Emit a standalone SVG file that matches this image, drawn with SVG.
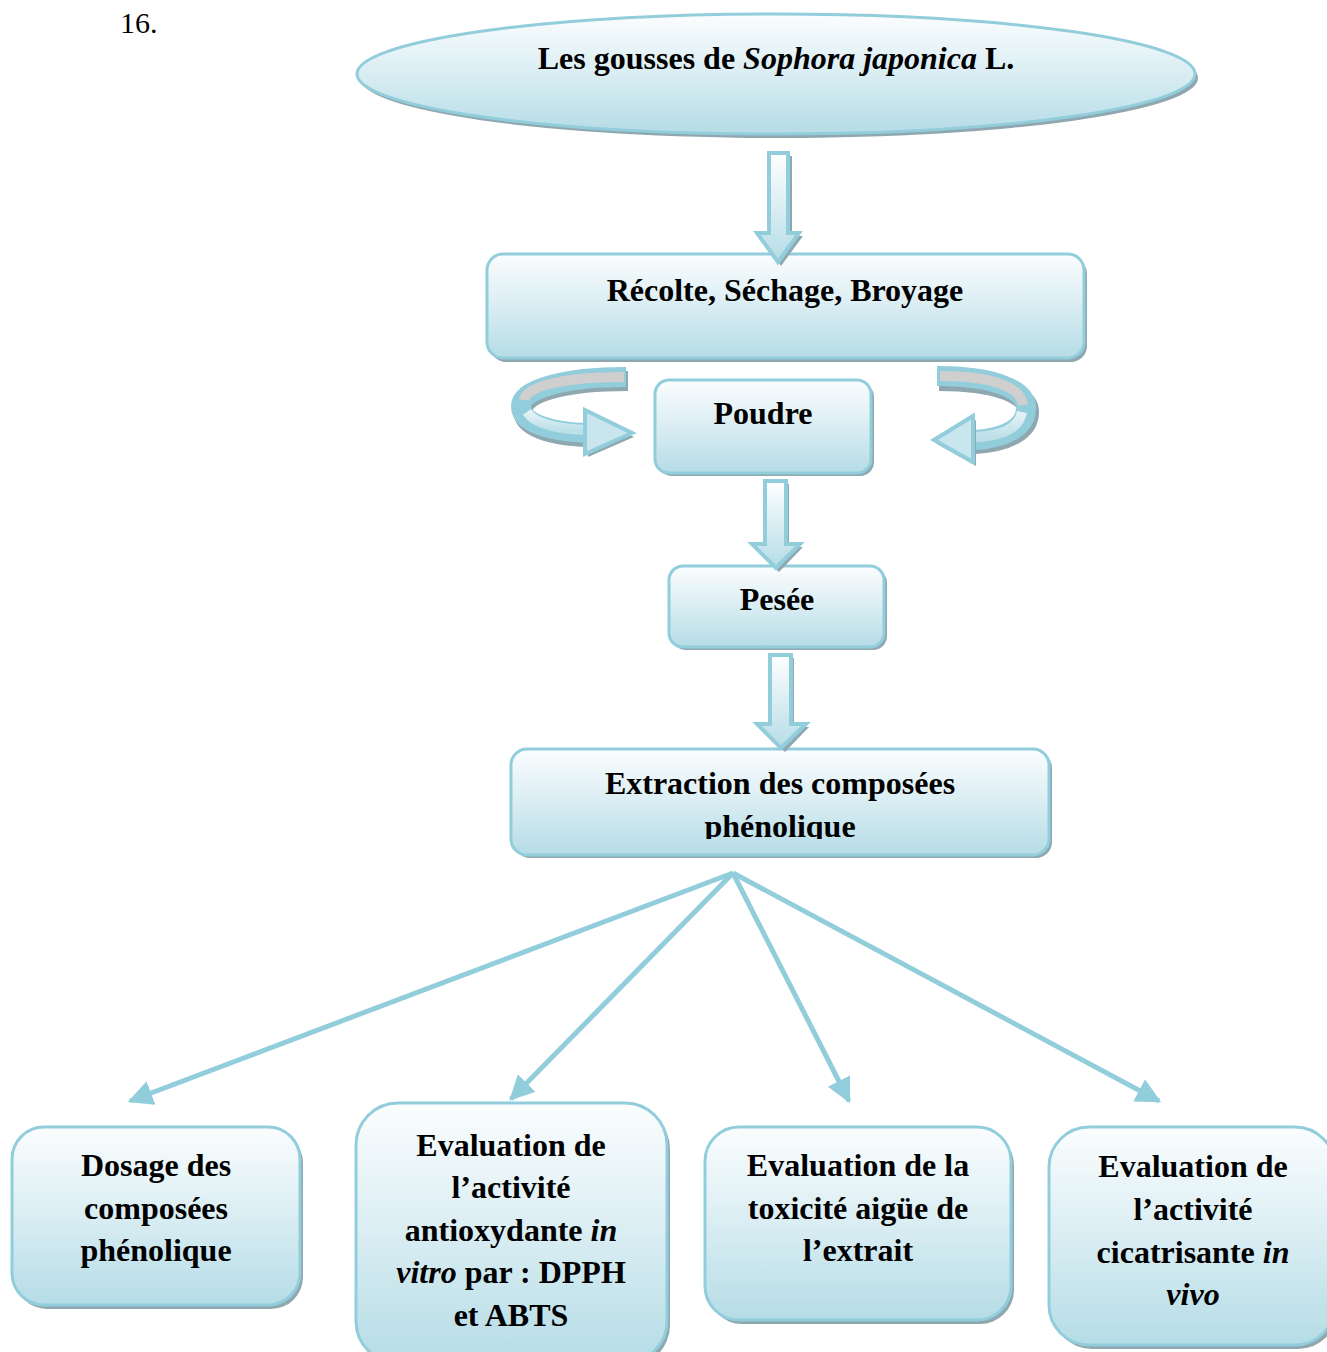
<svg xmlns="http://www.w3.org/2000/svg" width="1327" height="1352" viewBox="0 0 1327 1352">
  <defs>
    <linearGradient id="gFill" x1="0" y1="0" x2="0" y2="1">
      <stop offset="0" stop-color="#FBFDFE"/>
      <stop offset="0.45" stop-color="#DDEFF4"/>
      <stop offset="1" stop-color="#B5DCE6"/>
    </linearGradient>
    <linearGradient id="gArrow" x1="0" y1="0" x2="0" y2="1">
      <stop offset="0" stop-color="#FFFFFF"/>
      <stop offset="1" stop-color="#B5DCE6"/>
    </linearGradient>
    <linearGradient id="gRib" x1="0" y1="0" x2="0" y2="1">
      <stop offset="0" stop-color="#E4F2F6"/>
      <stop offset="1" stop-color="#BEE0E9"/>
    </linearGradient>
    <marker id="ah" viewBox="0 0 10 10" refX="9" refY="5" markerWidth="5" markerHeight="5" orient="auto" markerUnits="strokeWidth">
      <path d="M0,0 L10,5 L0,10 z" fill="#92CDDC"/>
    </marker>
    <clipPath id="clipExt">
      <rect x="500" y="740" width="560" height="99"/>
    </clipPath>
  </defs>
  <style>
    .node { fill: url(#gFill); stroke: #92CDDC; stroke-width: 3; }
    .shadow { fill: #8FA7AF; stroke: none; }
    .barrow { fill: url(#gArrow); stroke: #92CDDC; stroke-width: 4; stroke-linejoin: miter; }
    .bshadow { fill: #8FA7AF; stroke: none; }
    .t { font-family: "Liberation Serif", "Times New Roman", serif; font-weight: bold; font-size: 32px; fill: #000; text-anchor: middle; }
    .it { font-style: italic; }
    .conn { stroke: #92CDDC; stroke-width: 5; fill: none; }
  </style>

  <text x="120" y="33" font-family="Liberation Serif, Times New Roman, serif" font-size="30" fill="#000">16.</text>

  <!-- Node: ellipse -->
  <g id="n-gousses">
    <ellipse cx="779" cy="78" rx="419" ry="60" class="shadow"/>
    <ellipse cx="776" cy="74" rx="419" ry="60" class="node"/>
    <text x="776" y="69" class="t">Les gousses de <tspan class="it">Sophora japonica</tspan> L.</text>
  </g>

  <!-- Node: Récolte -->
  <g id="n-recolte">
    <rect x="490" y="258" width="597" height="104" rx="16" class="shadow"/>
    <rect x="487" y="254" width="597" height="104" rx="16" class="node"/>
    <text x="785" y="301" class="t">Récolte, Séchage, Broyage</text>
  </g>

  <!-- Node: Poudre -->
  <g id="n-poudre">
    <rect x="658" y="383" width="216" height="93" rx="14" class="shadow"/>
    <rect x="655" y="380" width="216" height="93" rx="14" class="node"/>
    <text x="763" y="424" class="t">Poudre</text>
  </g>

  <!-- Node: Pesée -->
  <g id="n-pesee">
    <rect x="672" y="569" width="215" height="81" rx="14" class="shadow"/>
    <rect x="669" y="566" width="215" height="81" rx="14" class="node"/>
    <text x="777" y="610" class="t">Pesée</text>
  </g>

  <!-- Node: Extraction -->
  <g id="n-extraction">
    <rect x="514" y="752" width="538" height="106" rx="16" class="shadow"/>
    <rect x="511" y="749" width="538" height="106" rx="16" class="node"/>
    <g clip-path="url(#clipExt)">
      <text x="780" y="794" class="t">Extraction des composées</text>
      <text x="780" y="837" class="t">phénolique</text>
    </g>
  </g>

  <!-- Node: Dosage -->
  <g id="n-dosage">
    <rect x="15" y="1131" width="288" height="178" rx="32" class="shadow"/>
    <rect x="12" y="1127" width="288" height="178" rx="32" class="node"/>
    <text x="156" y="1176" class="t">Dosage des</text>
    <text x="156" y="1219" class="t">composées</text>
    <text x="156" y="1261" class="t">phénolique</text>
  </g>

  <!-- Node: Antioxydante -->
  <g id="n-antiox">
    <rect x="359" y="1107" width="311" height="260" rx="42" class="shadow"/>
    <rect x="356" y="1103" width="311" height="260" rx="42" class="node"/>
    <text x="511" y="1156" class="t">Evaluation de</text>
    <text x="511" y="1198" class="t">l’activité</text>
    <text x="511" y="1241" class="t">antioxydante <tspan class="it">in</tspan></text>
    <text x="511" y="1283" class="t"><tspan class="it">vitro</tspan> par : DPPH</text>
    <text x="511" y="1326" class="t">et ABTS</text>
  </g>

  <!-- Node: Toxicité -->
  <g id="n-toxicite">
    <rect x="708" y="1131" width="306" height="193" rx="34" class="shadow"/>
    <rect x="705" y="1127" width="306" height="193" rx="34" class="node"/>
    <text x="858" y="1176" class="t">Evaluation de la</text>
    <text x="858" y="1219" class="t">toxicité aigüe de</text>
    <text x="858" y="1261" class="t">l’extrait</text>
  </g>

  <!-- Node: Cicatrisante -->
  <g id="n-cicatrisante">
    <rect x="1052" y="1131" width="286" height="218" rx="40" class="shadow"/>
    <rect x="1049" y="1127" width="286" height="218" rx="40" class="node"/>
    <text x="1193" y="1177" class="t">Evaluation de</text>
    <text x="1193" y="1220" class="t">l’activité</text>
    <text x="1193" y="1263" class="t">cicatrisante <tspan class="it">in</tspan></text>
    <text x="1193" y="1305" class="t"><tspan class="it">vivo</tspan></text>
  </g>

  <!-- Connectors -->
  <g id="connectors">
    <!-- block arrow 1 -->
    <polygon class="bshadow" points="773,156 792,156 792,236 803,236 781,266 760,236 773,236"/>
    <polygon class="barrow" points="769,153 788,153 788,233 799,233 778,262 757,233 769,233"/>
    <!-- block arrow 2 -->
    <polygon class="bshadow" points="768,484 789,484 789,547 803,547 779,572 755,547 768,547"/>
    <polygon class="barrow" points="765,481 786,481 786,544 800,544 776,568 752,544 765,544"/>
    <!-- block arrow 3 -->
    <polygon class="bshadow" points="773,658 794,658 794,727 809,727 785,752 761,727 773,727"/>
    <polygon class="barrow" points="770,655 791,655 791,724 806,724 781,748 757,724 770,724"/>

    <!-- left curved arrow -->
    <g id="curve-left">
      <path d="M628,381 C565,381 523,392 523,410 C523,427 550,436 588,437" fill="none" stroke="#8FA7AF" stroke-width="20"/>
      <path d="M626,377 C565,377 521,389 521,406 C521,423 550,432 588,433" fill="none" stroke="#92CDDC" stroke-width="20"/>
      <path d="M624,377 C565,377 526,386 524,400" fill="none" stroke="#CFCFCF" stroke-width="10"/>
      <path d="M527,412 C535,424 556,429 590,430" fill="none" stroke="url(#gRib)" stroke-width="10"/>
      <polygon points="588,413 634,437 588,457" fill="#8FA7AF"/>
      <polygon points="585,410 632,433 585,454" fill="#C9E6EE" stroke="#92CDDC" stroke-width="4" stroke-linejoin="miter"/>
    </g>

    <!-- right curved arrow -->
    <g id="curve-right">
      <path d="M939,381 C995,381 1029,394 1029,412 C1029,431 1008,442 975,444" fill="none" stroke="#8FA7AF" stroke-width="20"/>
      <path d="M937,376 C995,376 1026,390 1026,408 C1026,427 1006,438 975,440" fill="none" stroke="#92CDDC" stroke-width="20"/>
      <path d="M940,376 C995,376 1021,388 1023,405" fill="none" stroke="#CFCFCF" stroke-width="10"/>
      <path d="M1022,412 C1019,428 1003,436 975,437" fill="none" stroke="url(#gRib)" stroke-width="10"/>
      <polygon points="976,420 937,444 976,466" fill="#8FA7AF"/>
      <polygon points="973,416 934,440 973,462" fill="#C9E6EE" stroke="#92CDDC" stroke-width="4" stroke-linejoin="miter"/>
    </g>

    <!-- fan-out lines -->
    <line class="conn" x1="733" y1="873" x2="130" y2="1101" marker-end="url(#ah)"/>
    <line class="conn" x1="733" y1="873" x2="511" y2="1099" marker-end="url(#ah)"/>
    <line class="conn" x1="733" y1="873" x2="849" y2="1101" marker-end="url(#ah)"/>
    <line class="conn" x1="733" y1="873" x2="1159" y2="1101" marker-end="url(#ah)"/>
  </g>
</svg>
